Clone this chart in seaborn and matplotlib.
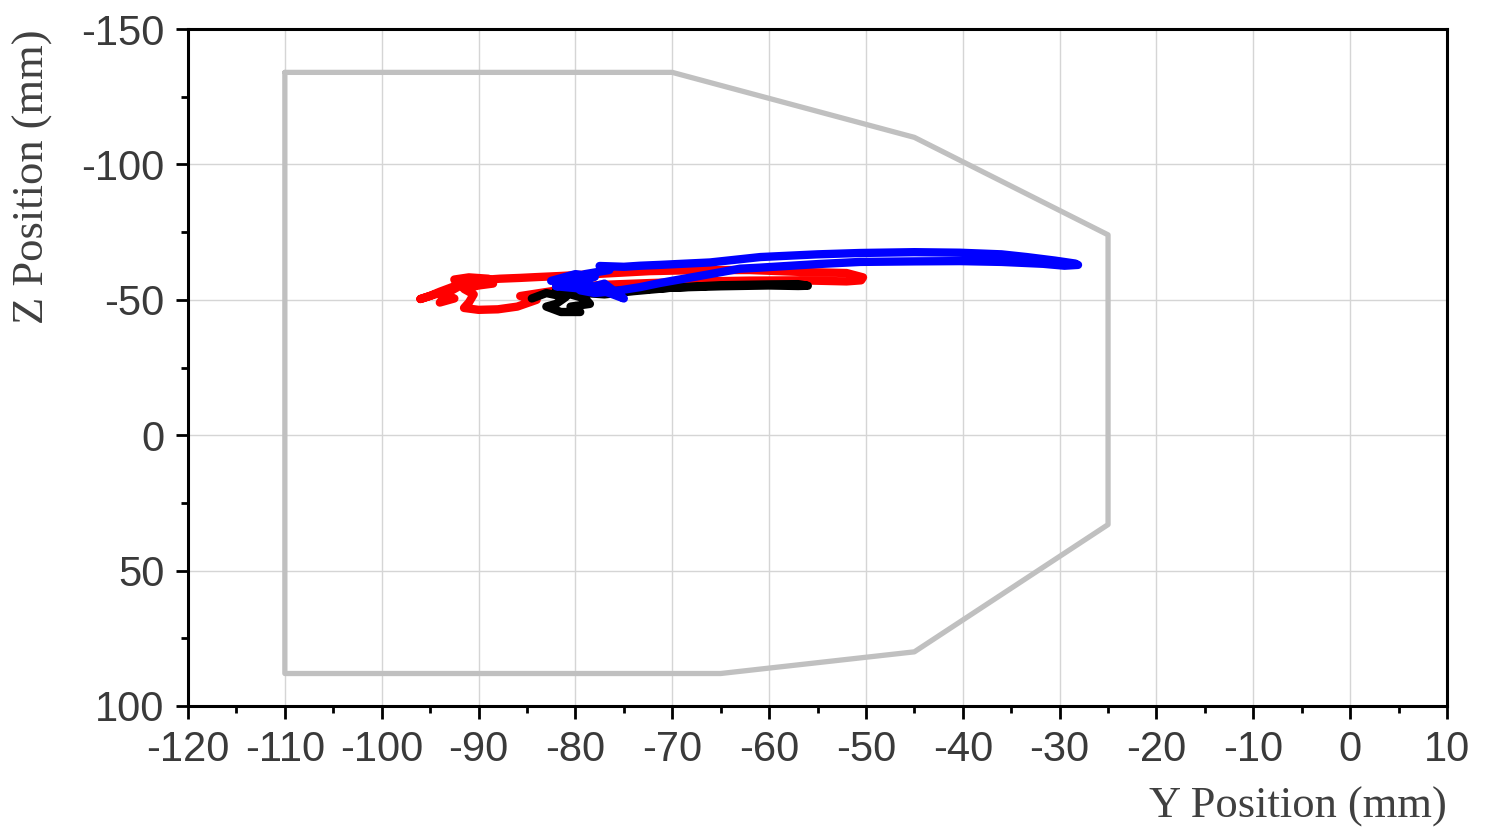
import numpy as np
import pandas as pd
import seaborn as sns
import matplotlib.pyplot as plt
from matplotlib.ticker import MultipleLocator

# workspace boundary (Y, Z) in mm
bound_y = [-110, -70, -45, -25, -25, -45, -65, -110, -110]
bound_z = [-134, -134, -110, -74, 33, 80, 88, 88, -134]

# traced trajectories (Y, Z) in mm
red_y = [-96, -94.5, -93, -94, -92.5, -93.5, -92, -92.5, -91, -89, -88.5, -90,
         -91.5, -90.5, -91, -91.5, -90, -88, -86, -84, -85.7, -81, -77.5, -72.3,
         -67, -62, -56.8, -52, -50.5, -50.3, -52, -56.8, -62, -67, -72.3, -77.5,
         -81.6, -84, -85.7, -87.8, -89.8, -91.4, -92.5, -94, -95, -96]
red_z = [-50.3, -52, -53.5, -49, -50.5, -52, -55, -57.5, -58.3, -57.8, -56, -55.3,
         -54, -52, -49, -47, -46.3, -46.5, -47.5, -50, -51.4, -54, -55.5, -56.2,
         -56.8, -57.1, -57.2, -56.8, -57.2, -58.3, -59.9, -60.3, -61, -61, -60.6, -59.6,
         -58.8, -58.4, -58.1, -57.8, -57.3, -56.6, -55, -53, -51.5, -50.3]

black_y = [-84.5, -83, -81, -82, -83, -81.5, -79.5, -80.5, -78.5, -79, -80.5,
           -82, -79, -77, -74, -70, -65, -60, -57, -56, -57, -60, -65, -70, -75, -79]
black_z = [-50.5, -52.5, -51, -48.5, -47.5, -45.5, -45.5, -47.5, -48.5, -50.5, -52,
           -53.5, -52.5, -52, -53.2, -54.5, -55.4, -55.7, -55.8, -55.2, -55.1, -55.3, -55.0, -54.5, -53.5, -52.5]

blue_y = [-82.5, -80, -78, -80, -82, -79, -77, -75, -78, -80.5, -79, -76.5,
          -77.5, -75, -73.3, -71.3, -66.1, -60.9, -55, -50.6, -45, -40.3, -36,
          -33.4, -30.5, -28.4, -28.1, -29.5, -31.7, -36, -40.3, -45, -50.6, -55,
          -60.9, -63, -66.1, -71.3, -73.3, -76, -78, -79.5]
blue_z = [-57, -59.5, -58.5, -56, -55, -54, -56, -50.5, -54.5, -57.5, -59.5, -61,
          -62.5, -62.2, -62.6, -62.9, -63.8, -65.8, -66.8, -67.3, -67.6, -67.4, -66.8,
          -65.8, -64.5, -63.4, -62.9, -62.6, -63.3, -64.0, -64.3, -64.2, -64.0, -63.2,
          -61.9, -61.5, -59.5, -56.2, -54.7, -53.2, -52.5, -53.5]

sns.set_style("ticks")
plt.rcParams['font.family'] = ['Liberation Sans', 'DejaVu Sans']
plt.rcParams['axes.unicode_minus'] = False

fig, ax = plt.subplots(figsize=(14.91, 8.30), dpi=100)
fig.subplots_adjust(left=0.1261, right=0.9705, top=0.965, bottom=0.1494)

ax.grid(True, which='major', color='#d5d5d5', linewidth=1.0, zorder=0)
ax.set_axisbelow(True)

bound = pd.DataFrame({"y": bound_y, "z": bound_z})
sns.lineplot(data=bound, x="y", y="z", sort=False, estimator=None, color='#c0c0c0',
             linewidth=3.8, ax=ax, zorder=2)

for ys, zs, c in [(red_y, red_z, '#ff0000'), (black_y, black_z, '#000000'), (blue_y, blue_z, '#0000ff')]:
    df = pd.DataFrame({"y": ys, "z": zs})
    sns.lineplot(data=df, x="y", y="z", sort=False, estimator=None, color=c,
                 linewidth=6, ax=ax, zorder=3)

ax.set_xlim(-120, 10)
ax.set_ylim(100, -150)
ax.xaxis.set_major_locator(MultipleLocator(10))
ax.xaxis.set_minor_locator(MultipleLocator(5))
ax.yaxis.set_major_locator(MultipleLocator(50))
ax.yaxis.set_minor_locator(MultipleLocator(25))

for s in ax.spines.values():
    s.set_linewidth(2.2)
    s.set_color('black')
ax.tick_params(which='major', direction='out', length=9, width=2, colors='black',
               labelcolor='#3a3a3a', labelsize=30, pad=8)
ax.tick_params(which='minor', direction='out', length=5, width=2, colors='black')

ax.set_xlabel('Y Position (mm)', fontsize=32, family=['Liberation Serif'], color='#404040',
              loc='right', labelpad=12)
ax.set_ylabel('Z Position (mm)', fontsize=32, family=['Liberation Serif'], color='#404040',
              loc='top', labelpad=20)

fig.savefig('out.png', dpi=100)
